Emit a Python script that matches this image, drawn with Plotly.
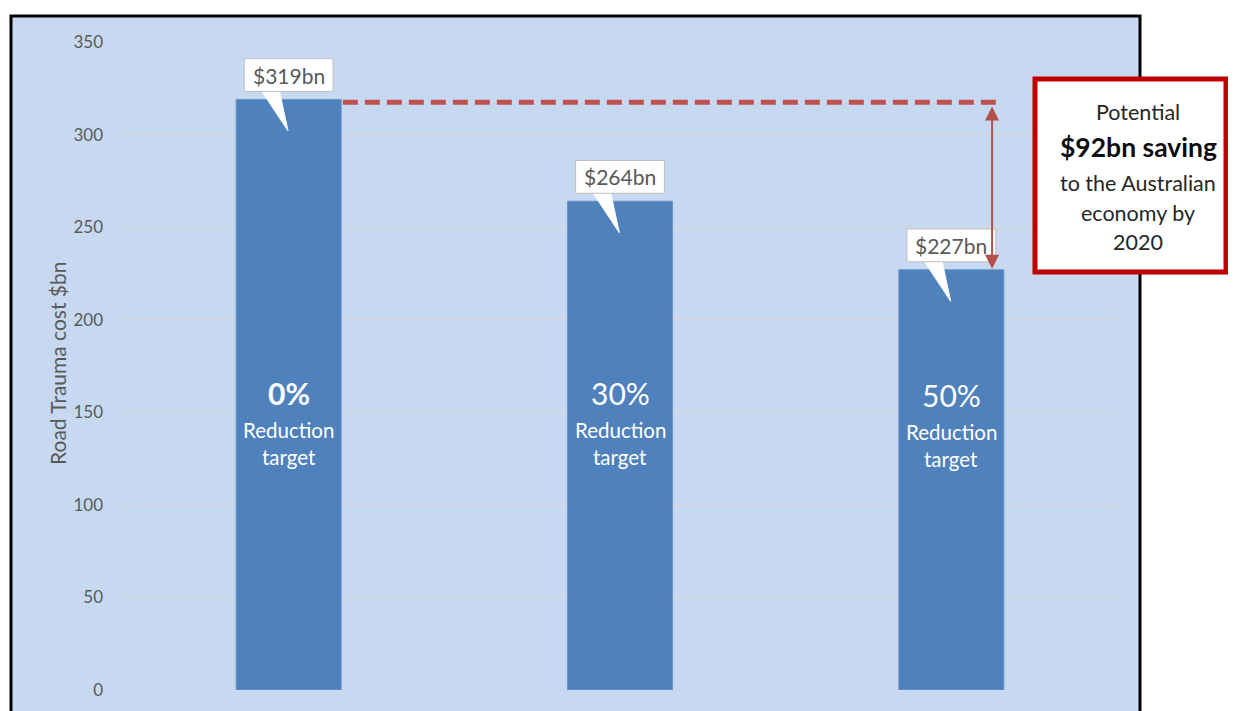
import plotly.graph_objects as go

# ---- data ----
categories = ["0%", "30%", "50%"]
costs = [319, 264, 227]
cost_labels = ["$319bn", "$264bn", "$227bn"]
bold_flags = [True, False, False]
sub_label = ["Reduction", "target"]
y_ticks = [0, 50, 100, 150, 200, 250, 300, 350]
y_title = "Road Trauma cost $bn"
saving_lines = ["Potential", "$92bn saving", "to the Australian", "economy by", "2020"]

FONT = "Lato, 'Open Sans', sans-serif"
BAR = "#4f81bd"
BG = "#c6d9f0"
GRAY = "#595959"

OFF = 8  # page body margin
W, H = 1236 - OFF, 711 - OFF
ML = 123 - OFF
MT = 42 - OFF
MR = W - (1117 - OFF)
MB = H - (690 - OFF)
PW = W - ML - MR
PH = H - MT - MB

def px_x(p):  # reference-image pixel -> paper x
    return (p - OFF - ML) / PW

def px_y(p):  # reference-image pixel -> paper y
    return (H - MB - (p - OFF)) / PH

xs = list(range(len(categories)))
bar_w = 0.317

fig = go.Figure()
fig.add_trace(go.Bar(
    x=xs, y=costs, width=bar_w,
    marker=dict(color=BAR, line=dict(color="#6d96c8", width=1)),
    hoverinfo="skip", showlegend=False,
))

shapes = []
annotations = []

# background panel with black frame (bottom edge off-image)
shapes.append(dict(type="rect", xref="paper", yref="paper",
                   x0=px_x(11), x1=px_x(1140), y0=px_y(740), y1=px_y(16),
                   fillcolor=BG, line=dict(color="black", width=3), layer="below"))

# callouts
for i, (v, lab) in enumerate(zip(costs, cost_labels)):
    bx0, bx1 = i - 0.134, i + 0.134
    by0, by1 = v + 4.3, v + 22
    shapes.append(dict(type="path", xref="x", yref="y",
                       path=f"M {i-0.082} {by0+0.3} L {i-0.002} {v-17} L {i-0.028} {by0+0.3} Z",
                       fillcolor="white", line=dict(color="white", width=1), layer="above"))
    shapes.append(dict(type="rect", xref="x", yref="y",
                       x0=bx0, x1=bx1, y0=by0, y1=by1,
                       fillcolor="white", line=dict(color="#bfbfbf", width=1), layer="above"))
    annotations.append(dict(x=i, y=(by0 + by1) / 2, xref="x", yref="y", text=lab,
                            xanchor="center", yanchor="middle",
                            showarrow=False, font=dict(family=FONT, size=21, color=GRAY)))
    # in-bar text
    big = f"<b>{categories[i]}</b>" if bold_flags[i] else categories[i]
    off = 0 if i < 2 else -1
    annotations.append(dict(x=i, y=160.4 + off, xref="x", yref="y", text=big, showarrow=False,
                            xanchor="center", yanchor="middle",
                            font=dict(family=FONT, size=30, color="white")))
    annotations.append(dict(x=i, y=140.5 + off, xref="x", yref="y", text=sub_label[0], showarrow=False,
                            xanchor="center", yanchor="middle",
                            font=dict(family=FONT, size=20.5, color="white")))
    annotations.append(dict(x=i, y=125.9 + off, xref="x", yref="y", text=sub_label[1], showarrow=False,
                            xanchor="center", yanchor="middle",
                            font=dict(family=FONT, size=20.5, color="white")))

# dashed reference line
shapes.append(dict(type="line", xref="x", yref="y",
                   x0=bar_w / 2 + 0.005, x1=2 + bar_w / 2 - 0.01, y0=costs[0] - 1.5, y1=costs[0] - 1.5,
                   line=dict(color="#c0504d", width=5, dash="15px,7px"), layer="above"))

# double-headed arrow showing saving
ax_x = 2.123
annotations.append(dict(x=ax_x, y=costs[2] + 0.5, ax=ax_x, ay=costs[0] - 3,
                        xref="x", yref="y", axref="x", ayref="y", text="",
                        showarrow=True, arrowhead=2, startarrowhead=2, arrowside="end+start",
                        arrowsize=1.4, startarrowsize=1.4, arrowwidth=2, arrowcolor="#b3504c"))

# saving box
shapes.append(dict(type="rect", xref="paper", yref="paper",
                   x0=px_x(1035), x1=px_x(1226), y0=px_y(272), y1=px_y(79),
                   fillcolor="white", line=dict(color="#c00000", width=5), layer="above"))
box_cx = px_x(1138)
line_ys = [112.5, 147, 183, 213, 242]
for j, (t, yy) in enumerate(zip(saving_lines, line_ys)):
    txt = f"<b>{t}</b>" if j == 1 else t
    annotations.append(dict(x=box_cx, y=px_y(yy), xref="paper", yref="paper", text=txt,
                            xanchor="center", yanchor="middle", showarrow=False,
                            font=dict(family=FONT, size=26.5 if j == 1 else 21.5,
                                      color="#0d0d0d" if j == 1 else "#262626")))

# y-axis title
annotations.append(dict(x=px_x(57), y=px_y(363), xref="paper", yref="paper", text=y_title,
                        xanchor="center", yanchor="middle",
                        textangle=-90, showarrow=False,
                        font=dict(family=FONT, size=21, color=GRAY)))

fig.update_layout(
    width=W, height=H,
    margin=dict(l=ML, r=MR, t=MT, b=MB),
    paper_bgcolor="white", plot_bgcolor="rgba(0,0,0,0)",
    shapes=shapes, annotations=annotations,
    showlegend=False,
    xaxis=dict(range=[-0.5, 2.5], showgrid=False, zeroline=False, showticklabels=False,
               showline=False, fixedrange=True),
    yaxis=dict(range=[0, 350], tickvals=y_ticks, showgrid=True, gridcolor="#d9d9d9", gridwidth=1,
               zeroline=False, showline=False, ticks="",
               tickfont=dict(family=FONT, size=17, color=GRAY), ticklabelstandoff=19,
               fixedrange=True),
    font=dict(family=FONT),
)

fig.write_html("out.html")
